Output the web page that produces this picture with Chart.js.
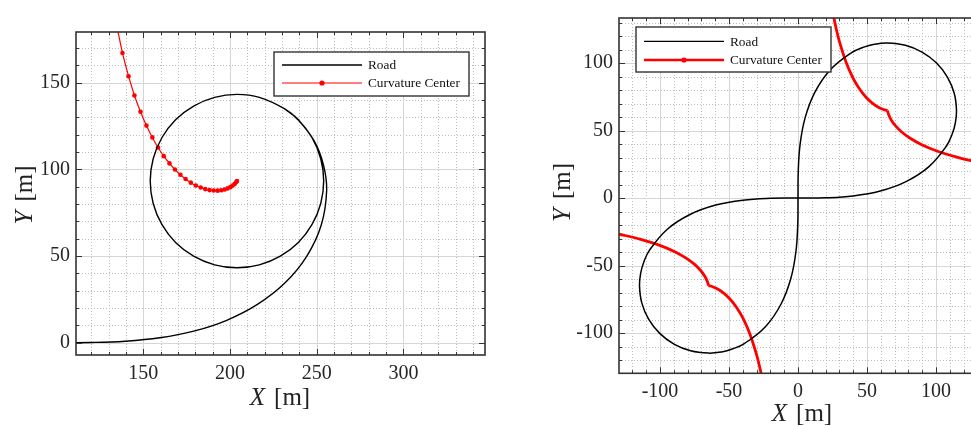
<!DOCTYPE html>
<html>
<head>
<meta charset="utf-8">
<script src="https://cdn.jsdelivr.net/npm/chart.js@4.4.1/dist/chart.umd.min.js"></script>
<style>
  html, body { margin: 0; background: #fff; overflow: hidden; }
  canvas { position: absolute; top: 0; }
  #left { left: 0; }
  #right { left: 540px; }
</style>
</head>
<body>
<canvas id="left" width="500" height="426" style="width:500px;height:426px"></canvas>
<canvas id="right" width="460" height="426" style="width:460px;height:426px"></canvas>
<script>
// --- left panel: straight -> clothoid -> circular loop (R = 50 m)
const roadLX = [99.6, 119.6, 139.6, 159.5, 179.1, 198.1, 215.8, 231.6, 244.2, 252.6, 255.7, 253.9, 248.5, 239.5, 231.8,
  216.9, 204, 191.1, 179, 168.6, 160.7, 155.7, 154, 155.7, 160.7, 168.6, 179, 191.1, 204, 216.9, 229, 239.4, 247.3, 252.3, 254, 252.3, 247.3, 239.4, 231.8];
const roadLY = [0, 0.1, 0.84, 2.82, 6.66, 12.93, 22.08, 34.38, 49.81, 67.88, 87.58, 102.43, 116.37, 128.34, 134.7,
  141.5, 143.2, 141.5, 136.5, 128.6, 118.2, 106.1, 93.2, 80.3, 68.2, 57.8, 49.9, 44.9, 43.2, 44.9, 49.9, 57.8, 68.2, 80.3, 93.2, 106.1, 118.2, 128.6, 134.7];
const centerLX = [134.6, 138.0, 141.5, 144.9, 148.4, 151.8, 155.2, 158.5, 161.8, 165.1, 168.2, 171.4, 174.4, 177.4,
  180.3, 183.1, 185.7, 188.2, 190.6, 192.9, 195.0, 196.9, 198.6, 200.2, 201.5, 202.7, 203.6, 204.0];
const centerLY = [183.3, 167.1, 153.7, 142.6, 133.2, 125.2, 118.4, 112.6, 107.6, 103.4, 99.9, 96.9, 94.4, 92.3,
  90.7, 89.5, 88.6, 88.0, 87.8, 87.7, 87.9, 88.4, 89.0, 89.7, 90.6, 91.6, 92.7, 93.2];
const leftXTicks = [150, 200, 250, 300];
const leftYTicks = [0, 50, 100, 150];

// --- right panel: figure-eight built from clothoids and two loops
const roadRX = [0, 20, 39.95, 59.59, 78.28, 94.88, 107.58, 111.81, 113.94, 114.85, 113.15, 108.15, 100.21, 89.85, 77.79, 64.85,
  55.35, 47.65, 38.60, 23.26, 12.18, 5.19, 1.54, 0.19, 0, -0.19, -1.54, -5.19, -12.18, -23.26, -38.60, -47.65, -55.35, -64.85,
  -77.79, -89.85, -100.21, -108.15, -113.15, -114.85, -113.94, -111.81, -107.58, -94.88, -78.28, -59.59, -39.95, -20, 0];
const roadRY = [0, 0.19, 1.54, 5.19, 12.18, 23.26, 38.60, 47.65, 55.35, 64.85, 77.79, 89.85, 100.21, 108.15, 113.15, 114.85,
  113.94, 111.81, 107.58, 94.88, 78.28, 59.59, 39.95, 20, 0, -20, -39.95, -59.59, -78.28, -94.88, -107.58, -111.81, -113.94, -114.85,
  -113.15, -108.15, -100.21, -89.85, -77.79, -64.85, -55.35, -47.65, -38.60, -23.26, -12.18, -5.19, -1.54, -0.19, 0];
// curvature centre paths, cusp at index 10
const centerR1X = [24.98, 27.46, 29.93, 34.85, 39.70, 44.48, 49.14, 53.62, 57.89, 61.88, 64.85, 65.66, 67.53, 70.55, 74.92, 81.03, 89.32, 100.63, 116.30, 126.45, 138.75];
const centerR1Y = [138.75, 126.45, 116.30, 100.63, 89.32, 81.03, 74.92, 70.55, 67.53, 65.66, 64.85, 61.88, 57.89, 53.62, 49.14, 44.48, 39.70, 34.85, 29.93, 27.46, 24.98];
const centerR3X = [-138.75, -126.45, -116.30, -100.63, -89.32, -81.03, -74.92, -70.55, -67.53, -65.66, -64.85, -61.88, -57.89, -53.62, -49.14, -44.48, -39.70, -34.85, -29.93, -27.46, -24.98];
const centerR3Y = [-24.98, -27.46, -29.93, -34.85, -39.70, -44.48, -49.14, -53.62, -57.89, -61.88, -64.85, -65.66, -67.53, -70.55, -74.92, -81.03, -89.32, -100.63, -116.30, -126.45, -138.75];
const rightTicks = [-100, -50, 0, 50, 100];

const SERIF = '"Liberation Serif", "Times New Roman", serif';
const CUSP = 10;

const pts = (xs, ys) => xs.map((x, i) => ({ x, y: ys[i] }));

function roadSet(data, width) {
  return { data, showLine: true, borderColor: '#000', borderWidth: width, pointRadius: 0, tension: 0.4 };
}
function centerSet(data, width, dots) {
  return {
    data, showLine: true, borderColor: '#ff0000', borderWidth: width, tension: 0.4,
    pointRadius: dots ? 2.3 : 0, pointBackgroundColor: '#ff0000', pointBorderColor: '#ff0000', pointBorderWidth: 0
  };
}

// grid, frame, inward ticks, axis titles and a boxed legend
const frame = {
  id: 'frame',
  beforeDatasetsDraw(chart) {
    const { ctx, chartArea: a, scales: { x, y } } = chart;
    const majors = chart.options.plugins.frame.major;
    ctx.save();
    ctx.lineWidth = 1;
    ctx.strokeStyle = '#bdbdbd';
    ctx.setLineDash([1, 2]);
    for (let v = Math.ceil(x.min / 10) * 10; v <= x.max; v += 10) {
      if (v % majors === 0) continue;
      const p = Math.round(x.getPixelForValue(v)) + 0.5;
      ctx.beginPath(); ctx.moveTo(p, a.top); ctx.lineTo(p, a.bottom); ctx.stroke();
    }
    for (let v = Math.ceil(y.min / 10) * 10; v <= y.max; v += 10) {
      if (v % majors === 0) continue;
      const p = Math.round(y.getPixelForValue(v)) + 0.5;
      ctx.beginPath(); ctx.moveTo(a.left, p); ctx.lineTo(a.right, p); ctx.stroke();
    }
    ctx.setLineDash([]);
    ctx.strokeStyle = '#d6d6d6';
    for (let v = Math.ceil(x.min / majors) * majors; v <= x.max; v += majors) {
      const p = Math.round(x.getPixelForValue(v)) + 0.5;
      ctx.beginPath(); ctx.moveTo(p, a.top); ctx.lineTo(p, a.bottom); ctx.stroke();
    }
    for (let v = Math.ceil(y.min / majors) * majors; v <= y.max; v += majors) {
      const p = Math.round(y.getPixelForValue(v)) + 0.5;
      ctx.beginPath(); ctx.moveTo(a.left, p); ctx.lineTo(a.right, p); ctx.stroke();
    }
    ctx.restore();
  },
  afterDatasetsDraw(chart) {
    const { ctx, chartArea: a, scales: { x, y } } = chart;
    const o = chart.options.plugins.frame;
    ctx.save();
    ctx.strokeStyle = '#333';
    ctx.lineWidth = 1;
    for (let v = Math.ceil(x.min / 10) * 10; v <= x.max; v += 10) {
      const p = Math.round(x.getPixelForValue(v)) + 0.5;
      const len = v % o.major === 0 ? 6 : 3;
      ctx.beginPath();
      ctx.moveTo(p, a.bottom); ctx.lineTo(p, a.bottom - len);
      ctx.moveTo(p, a.top); ctx.lineTo(p, a.top + len);
      ctx.stroke();
    }
    for (let v = Math.ceil(y.min / 10) * 10; v <= y.max; v += 10) {
      const p = Math.round(y.getPixelForValue(v)) + 0.5;
      const len = v % o.major === 0 ? 6 : 3;
      ctx.beginPath();
      ctx.moveTo(a.left, p); ctx.lineTo(a.left + len, p);
      ctx.moveTo(a.right, p); ctx.lineTo(a.right - len, p);
      ctx.stroke();
    }
    ctx.lineWidth = 1.6;
    ctx.strokeRect(a.left, a.top, a.right - a.left, a.bottom - a.top);
    ctx.restore();

    drawLegend(ctx, o.legend);
    drawTitle(ctx, 'X', o.xTitle[0], o.xTitle[1], 0);
    drawTitle(ctx, 'Y', o.yTitle[0], o.yTitle[1], -Math.PI / 2);
  }
};

function drawTitle(ctx, sym, cx, cy, rot) {
  ctx.save();
  ctx.translate(cx, cy);
  ctx.rotate(rot);
  ctx.fillStyle = '#222';
  ctx.textBaseline = 'alphabetic';
  const italic = `italic 25px ${SERIF}`;
  const upright = `25px ${SERIF}`;
  ctx.font = italic;
  const w1 = ctx.measureText(sym).width;
  ctx.font = upright;
  const gap = 9;
  const w2 = ctx.measureText('[m]').width;
  let x0 = -(w1 + gap + w2) / 2;
  ctx.font = italic;
  ctx.fillText(sym, x0, 0);
  ctx.font = upright;
  ctx.fillText('[m]', x0 + w1 + gap, 0);
  ctx.restore();
}

function drawLegend(ctx, L) {
  ctx.save();
  ctx.fillStyle = '#fff';
  ctx.fillRect(L.x, L.y, L.w, L.h);
  ctx.strokeStyle = '#333';
  ctx.lineWidth = 1.4;
  ctx.strokeRect(L.x, L.y, L.w, L.h);
  const x1 = L.x + 8, x2 = L.x + 88;
  ctx.lineWidth = 1.3;
  ctx.strokeStyle = '#000';
  ctx.beginPath(); ctx.moveTo(x1, L.rows[0]); ctx.lineTo(x2, L.rows[0]); ctx.stroke();
  ctx.lineWidth = L.redWidth;
  ctx.strokeStyle = '#ff0000';
  ctx.beginPath(); ctx.moveTo(x1, L.rows[1]); ctx.lineTo(x2, L.rows[1]); ctx.stroke();
  ctx.fillStyle = '#ff0000';
  ctx.beginPath(); ctx.arc((x1 + x2) / 2, L.rows[1], 2.6, 0, Math.PI * 2); ctx.fill();
  ctx.fillStyle = '#111';
  ctx.font = `13.3px ${SERIF}`;
  ctx.textBaseline = 'middle';
  ctx.fillText('Road', L.x + 94, L.rows[0] + 1);
  ctx.fillText('Curvature Center', L.x + 94, L.rows[1] + 1);
  ctx.restore();
}

function axis(min, max, ticks, fit, padding) {
  return {
    type: 'linear', min, max,
    afterBuildTicks: s => { s.ticks = ticks.map(v => ({ value: v })); },
    afterFit: fit,
    grid: { display: false, drawTicks: false },
    border: { display: false },
    ticks: { font: { family: SERIF, size: 20 }, color: '#262626', padding, autoSkip: false, maxRotation: 0 }
  };
}

function makeChart(id, datasets, scales, padding, frameOpts) {
  return new Chart(document.getElementById(id), {
    type: 'scatter',
    data: { datasets },
    options: {
      responsive: false,
      animation: false,
      layout: { padding },
      plugins: { legend: { display: false }, tooltip: { enabled: false }, frame: frameOpts },
      scales
    },
    plugins: [frame]
  });
}

makeChart('left',
  [roadSet(pts(roadLX, roadLY), 1.4), centerSet(pts(centerLX, centerLY), 1.2, true)],
  {
    x: axis(111.2, 347, leftXTicks, s => { s.height = 71; }, 7),
    y: axis(-7.1, 179.2, leftYTicks, s => { s.width = 76; }, 6)
  },
  { top: 32, right: 15, left: 0, bottom: 0 },
  {
    major: 50,
    legend: { x: 274, y: 52, w: 195, h: 44, rows: [65, 83], redWidth: 1.2 },
    xTitle: [280, 405], yTitle: [32, 195]
  });

makeChart('right',
  [
    roadSet(pts(roadRX, roadRY), 1.5),
    centerSet(pts(centerR1X.slice(0, CUSP + 1), centerR1Y.slice(0, CUSP + 1)), 2.8, false),
    centerSet(pts(centerR1X.slice(CUSP), centerR1Y.slice(CUSP)), 2.8, false),
    centerSet(pts(centerR3X.slice(0, CUSP + 1), centerR3Y.slice(0, CUSP + 1)), 2.8, false),
    centerSet(pts(centerR3X.slice(CUSP), centerR3Y.slice(CUSP)), 2.8, false)
  ],
  {
    x: axis(-129.7, 135.5, rightTicks, s => { s.height = 52.7; }, 6),
    y: axis(-129.8, 133.4, rightTicks, s => { s.width = 79; }, 6)
  },
  { top: 10.7, right: 15, left: 0, bottom: 0 },
  {
    major: 50,
    legend: { x: 96, y: 27, w: 195, h: 45, rows: [41.3, 60], redWidth: 2.6 },
    xTitle: [262, 421], yTitle: [30, 192.5]
  });
</script>
</body>
</html>
